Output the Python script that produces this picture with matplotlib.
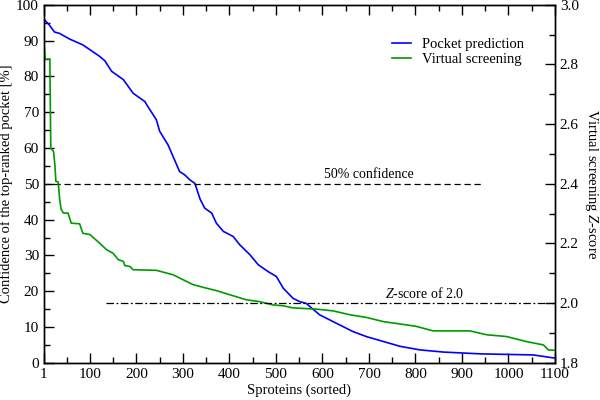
import matplotlib
matplotlib.use("Agg")
import matplotlib.pyplot as plt
from matplotlib.ticker import MultipleLocator, FixedLocator

plt.rcParams['font.family'] = ['Liberation Serif', 'DejaVu Serif']
plt.rcParams['mathtext.fontset'] = 'custom'
plt.rcParams['mathtext.rm'] = 'Liberation Serif'
plt.rcParams['mathtext.it'] = 'Liberation Serif:italic'

# Pocket prediction confidence (%), sorted proteins
pocket_x = [1, 12, 24, 35, 57, 85, 121, 132, 147, 172, 193, 218, 229, 243, 250, 268, 279, 293, 304,
            315, 326, 337, 347, 362, 372, 387, 408, 422, 444, 462, 483, 501, 516, 537, 551, 565,
            594, 623, 666, 695, 767, 810, 860, 939, 1053, 1100]
pocket_y = [96, 94.5, 92.4, 92, 90.4, 88.8, 85.6, 84.4, 81.4, 79.1, 75.3, 73, 70.7, 67.9, 64.7,
            60.9, 57.6, 53.4, 52.5, 51.1, 50.1, 45.7, 43.2, 41.8, 39, 36.7, 35.3, 33, 30.2, 27.4,
            25.5, 24.1, 20.8, 18, 17.1, 16.6, 13.4, 11.5, 8.7, 7.3, 4.6, 3.6, 3.0, 2.5, 2.2, 1.3]

# Virtual screening Z-score, sorted proteins
vs_x = [1, 2, 4, 14, 16, 22, 25, 27, 32, 35, 38, 43, 53, 60, 78, 85, 100, 121, 136, 150, 161, 172,
        175, 186, 193, 243, 279, 301, 322, 351, 372, 401, 437, 465, 494, 516, 537, 587, 623, 659,
        695, 731, 781, 802, 838, 917, 953, 996, 1039, 1075, 1086, 1100]
vs_z = [2.916, 2.86, 2.818, 2.818, 2.52, 2.508, 2.46, 2.408, 2.406, 2.35, 2.316, 2.302, 2.302, 2.268,
        2.266, 2.234, 2.23, 2.201, 2.179, 2.167, 2.146, 2.14, 2.126, 2.123, 2.112, 2.11, 2.095, 2.078,
        2.062, 2.05, 2.042, 2.028, 2.011, 2.005, 1.994, 1.991, 1.984, 1.98, 1.974, 1.961, 1.952, 1.938,
        1.927, 1.922, 1.907, 1.907, 1.894, 1.888, 1.871, 1.86, 1.843, 1.842]

x_ticks = [1, 100, 200, 300, 400, 500, 600, 700, 800, 900, 1000, 1100]
conf_level = 50
conf_line_x = [1, 945]
z_level = 2.0
z_line_x = [135, 1100]

fig = plt.figure(figsize=(6, 4), dpi=100)
ax = fig.add_axes([0.073, 0.093, 0.852, 0.895])
ax2 = ax.twinx()

ax.plot(pocket_x, pocket_y, color='#0000ff', lw=1.2, label='Pocket prediction')
ax2.plot(vs_x, vs_z, color='#009a00', lw=1.2, label='Virtual screening')

ax.plot(conf_line_x, [conf_level, conf_level], color='black', lw=0.9, ls=(0, (5, 3)))
ax2.plot(z_line_x, [z_level, z_level], color='black', lw=0.9, ls=(0, (6, 2, 1.5, 2)))

ax.text(700, 50.8, '50% confidence', ha='center', va='bottom', fontsize=10)
ax2.text(820, 2.008, r'$Z$-score of 2.0', ha='center', va='bottom', fontsize=10)

ax.set_xlim(1, 1100)
ax.set_ylim(0, 100)
ax2.set_ylim(1.8, 3.0)

ax.xaxis.set_major_locator(FixedLocator(x_ticks))
ax.xaxis.set_minor_locator(FixedLocator(list(range(50, 1100, 100))))
ax.yaxis.set_major_locator(MultipleLocator(10))
ax.yaxis.set_minor_locator(MultipleLocator(5))
ax2.yaxis.set_major_locator(MultipleLocator(0.2))
ax2.yaxis.set_minor_locator(MultipleLocator(0.1))
ax2.set_yticklabels([f'{v:.1f}' for v in ax2.get_yticks()])

ax.tick_params(axis='both', which='both', direction='in', top=True, labelsize=11)
ax.tick_params(which='major', length=7, width=1)
ax.tick_params(which='minor', length=4, width=1)
ax.tick_params(axis='y', which='both', right=False)
ax2.tick_params(axis='y', which='both', direction='in', labelsize=11)
ax2.tick_params(which='major', length=7, width=1)
ax2.tick_params(which='minor', length=4, width=1)

for a in (ax, ax2):
    for s in a.spines.values():
        s.set_linewidth(1)

ax.set_xlabel('Sproteins (sorted)', fontsize=10.5, labelpad=2)
ax.set_ylabel('Confidence of the top-ranked pocket [%]', fontsize=10.5, labelpad=2)
ax2.set_ylabel(r'Virtual screening $Z$-score', fontsize=10.5, rotation=270, labelpad=15)

h1, l1 = ax.get_legend_handles_labels()
h2, l2 = ax2.get_legend_handles_labels()
ax2.legend(h1 + h2, l1 + l2, loc='upper left', bbox_to_anchor=(0.655, 0.945), frameon=False,
           fontsize=10.5, handlelength=1.3, handletextpad=0.8, labelspacing=0.15)

fig.savefig('out.png', dpi=100)
